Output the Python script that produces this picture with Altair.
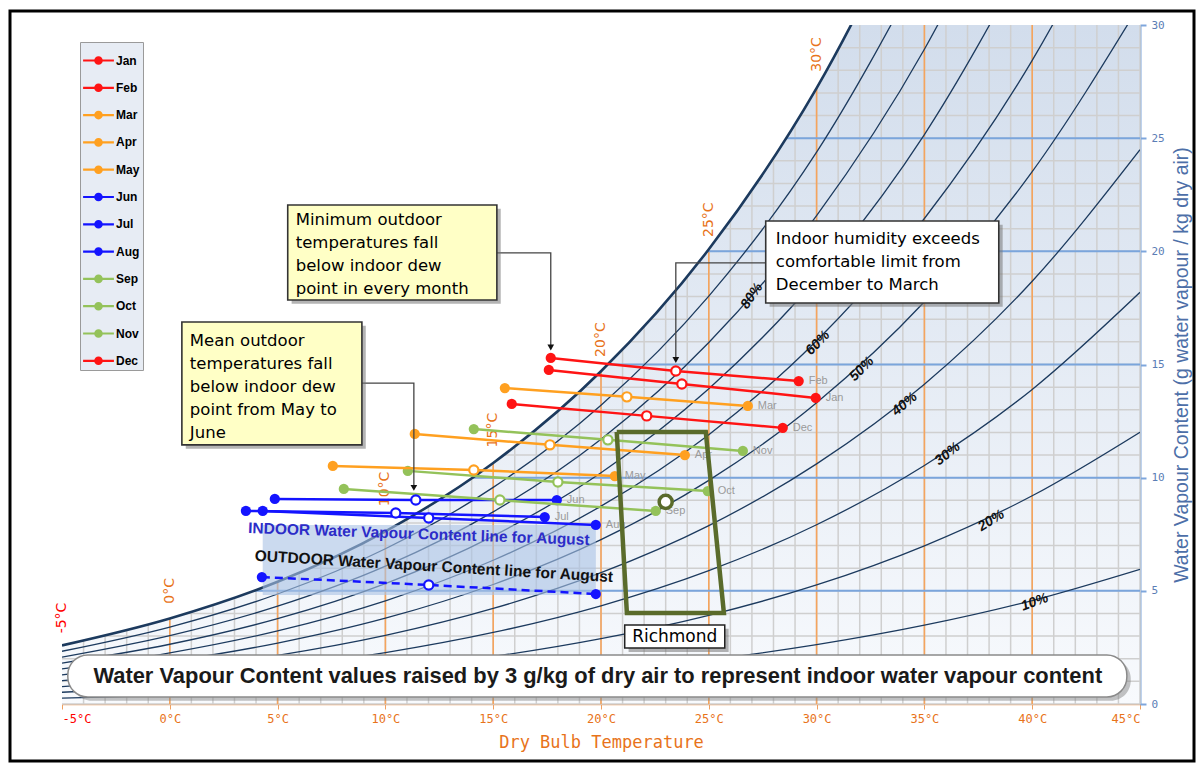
import altair as alt
import pandas as pd

# ---------------- axis values ----------------
x_ticks = [-5, 0, 5, 10, 15, 20, 25, 30, 35, 40, 45]
y_ticks = [0, 5, 10, 15, 20, 25, 30]
grid_T = list(range(-4, 46))
grid_W = list(range(0, 30))
orange_T = [0, 5, 10, 15, 20, 25, 30, 35, 40]
blue_W = [5, 10, 15, 20, 25]

# ---------------- relative humidity curves (g/kg), read at 5 degC steps ----------------
rh_temps = [-5, 0, 5, 10, 15, 20, 25, 30, 35, 40, 45]
rh100 = [2.59, 3.78, 5.40, 7.63, 10.65, 14.70, 20.09, 27.21, 36.58]
rh90 = [2.33, 3.40, 4.86, 6.86, 9.57, 13.20, 18.02, 24.38, 32.73]
rh80 = [2.07, 3.02, 4.32, 6.09, 8.49, 11.70, 15.97, 21.58, 28.93, 38.51]
rh70 = [1.81, 2.64, 3.77, 5.32, 7.42, 10.22, 13.93, 18.80, 25.16, 33.44]
rh60 = [1.55, 2.26, 3.23, 4.56, 6.35, 8.74, 11.90, 16.05, 21.45, 28.44, 37.47]
rh50 = [1.29, 1.88, 2.69, 3.79, 5.28, 7.26, 9.88, 13.31, 17.77, 23.52, 30.91]
rh40 = [1.03, 1.51, 2.15, 3.03, 4.22, 5.80, 7.88, 10.61, 14.13, 18.68, 24.49]
rh30 = [0.77, 1.13, 1.61, 2.27, 3.16, 4.34, 5.89, 7.92, 10.54, 13.90, 18.19]
rh20 = [0.52, 0.75, 1.07, 1.51, 2.10, 2.89, 3.92, 5.26, 6.99, 9.20, 12.01]
rh10 = [0.26, 0.38, 0.54, 0.76, 1.05, 1.44, 1.95, 2.62, 3.48, 4.57, 5.95]
rh_series = {90: rh90, 80: rh80, 70: rh70, 60: rh60, 50: rh50,
             40: rh40, 30: rh30, 20: rh20, 10: rh10}

# temperature labels on the saturation curve
tlab_text = ["-5°C", "0°C", "10°C", "15°C", "20°C", "25°C", "30°C"]
tlab_T = [-5, 0, 10, 15, 20, 25, 30]
tlab_W = [3.8, 5.0, 9.5, 12.1, 16.1, 21.4, 28.7]
tlab_color = ["#ff0000", "#e8731a", "#e8731a", "#e8731a", "#e8731a", "#e8731a", "#e8731a"]

# RH curve labels
rhlab_text = ["80%", "60%", "50%", "40%", "30%", "20%", "10%"]
rhlab_T = [27.0, 30.06, 32.1, 34.09, 36.08, 38.1, 40.12]
rhlab_W = [18.03, 15.95, 14.8, 13.25, 11.05, 8.1, 4.5]
rhlab_angle = [305, 314, 315, 320, 322, 328, 340]

# ---------------- monthly indoor water vapour content ----------------
months = ["Jan", "Feb", "Mar", "Apr", "May", "Jun", "Jul", "Aug", "Sep", "Oct", "Nov", "Dec"]
month_colors = ["#ff1414", "#ff1414", "#ffa020", "#ffa020", "#ffa020", "#1414ff", "#1414ff",
                "#1414ff", "#94c25a", "#94c25a", "#94c25a", "#ff1414"]
t_min = [17.58, 17.67, 15.54, 11.36, 7.56, 4.87, 3.53, 4.31, 8.07, 11.04, 14.10, 15.86]
w_min = [14.76, 15.29, 13.96, 11.93, 10.52, 9.06, 8.53, 8.53, 9.50, 10.30, 12.15, 13.26]
t_mean = [23.75, 23.47, 21.20, 17.63, 14.10, 11.41, 10.48, 12.01, 15.31, 18.00, 20.32, 22.12]
w_mean = [14.14, 14.71, 13.57, 11.45, 10.34, 9.01, 8.44, 8.22, 9.01, 9.81, 11.67, 12.73]
t_max = [29.96, 29.17, 26.81, 23.89, 20.64, 17.95, 17.39, 19.76, 22.54, 24.95, 26.58, 28.43]
w_max = [13.52, 14.27, 13.17, 11.00, 10.07, 9.01, 8.26, 7.91, 8.53, 9.41, 11.18, 12.20]

# outdoor August
aug_out_T = [4.27, 12.01, 19.76]
aug_out_W = [5.61, 5.26, 4.86]

# Richmond comfort zone
rich_T = [20.73, 24.86, 25.70, 21.20, 20.73]
rich_W = [12.02, 12.02, 4.02, 4.02, 12.02]
rich_pt_T = [23.0]
rich_pt_W = [8.93]

# ---------------- helpers ----------------
W_PX, H_PX = 1078, 679
xs = alt.Scale(domain=[-5, 45], nice=False, zero=False)
ys = alt.Scale(domain=[0, 30], nice=False, zero=False)
ORANGE = "#e8731a"
x_axis = alt.Axis(values=x_ticks, labelExpr="datum.value + '°C'", grid=False,
                  domainColor="#f0a060", domainWidth=1.5, tickColor="#f0a060", tickSize=5,
                  labelColor=alt.condition("datum.value == -5", alt.value("#ff0000"), alt.value(ORANGE)),
                  labelFont="DejaVu Sans Mono", labelFontSize=12, labelPadding=4,
                  titleColor=ORANGE, titleFont="DejaVu Sans Mono", titleFontSize=17,
                  titleFontWeight="normal", titlePadding=10)
y_axis = alt.Axis(orient="right", values=y_ticks, grid=False, domainColor="#7ea6dc",
                  domainWidth=2, tickColor="#7ea6dc", tickSize=6, tickWidth=2,
                  labelColor="#5a7db5", labelFont="DejaVu Sans Mono", labelFontSize=11,
                  labelPadding=5, titleColor="#4d6fa8", titleFont="Liberation Sans",
                  titleFontSize=19.5, titleFontWeight="normal", titlePadding=8,
                  titleAngle=270, titleBaseline="top")
X_TITLE = "Dry Bulb Temperature"
Y_TITLE = "Water Vapour Content (g water vapour / kg dry air)"


def X(f):
    return alt.X(f, type="quantitative", scale=xs, axis=x_axis, title=X_TITLE)


def Y(f):
    return alt.Y(f, type="quantitative", scale=ys, axis=y_axis, title=Y_TITLE)


# ---------------- data frames ----------------
bg_df = pd.DataFrame({"T": [x_ticks[0]], "T2": [x_ticks[-1]], "W": [y_ticks[0]], "W2": [y_ticks[-1]]})
gridT_df = pd.DataFrame({"T": grid_T})
gridW_df = pd.DataFrame({"W": grid_W})
orT_df = pd.DataFrame({"T": orange_T})
blW_df = pd.DataFrame({"W": blue_W})
sat_df = pd.DataFrame({"T": rh_temps[:len(rh100)], "W": rh100})
rows = []
for rh, vals in rh_series.items():
    for t, w in zip(rh_temps, vals):
        rows.append({"rh": rh, "T": t, "W": w})
rh_df = pd.DataFrame(rows)
tlab_df = pd.DataFrame({"T": tlab_T, "W": tlab_W, "txt": tlab_text, "c": tlab_color})
rhlab_df = pd.DataFrame({"T": rhlab_T, "W": rhlab_W, "txt": rhlab_text, "a": rhlab_angle})

line_rows, end_rows, mean_rows = [], [], []
for i, m in enumerate(months):
    for k, (t, w) in enumerate([(t_min[i], w_min[i]), (t_mean[i], w_mean[i]), (t_max[i], w_max[i])]):
        line_rows.append({"month": m, "T": t, "W": w, "ord": k})
    end_rows.append({"month": m, "T": t_min[i], "W": w_min[i]})
    end_rows.append({"month": m, "T": t_max[i], "W": w_max[i]})
    mean_rows.append({"month": m, "T": t_mean[i], "W": w_mean[i]})
lines_df = pd.DataFrame(line_rows)
ends_df = pd.DataFrame(end_rows)
means_df = pd.DataFrame(mean_rows)
mlab_df = pd.DataFrame({"month": months, "T": t_max, "W": w_max})

aug_df = pd.DataFrame({"T": aug_out_T, "W": aug_out_W, "ord": [0, 1, 2]})
aug_end_df = aug_df.iloc[[0, 2]]
aug_mid_df = aug_df.iloc[[1]]
rich_df = pd.DataFrame({"T": rich_T, "W": rich_W, "ord": list(range(len(rich_T)))})
rich_pt_df = pd.DataFrame({"T": rich_pt_T, "W": rich_pt_W})

cscale = alt.Scale(domain=months, range=month_colors)
sscale = alt.Scale(domain=months, range=month_colors)
legend_path = ("M-1,-0.07H1V0.07H-1Z"
               "M0.28,0A0.28,0.28,0,1,1,-0.28,0A0.28,0.28,0,1,1,0.28,0Z")
legend = alt.Legend(title=None, orient="none", legendX=18, legendY=17,
                    symbolType=legend_path, symbolSize=950, symbolStrokeWidth=0,
                    symbolOpacity=1, labelFont="Liberation Sans", labelFontSize=12,
                    labelFontWeight="bold", labelColor="#000000", fillColor="#e7ecf4",
                    strokeColor="#9a9a9a", padding=3, rowPadding=5.3, labelOffset=2)

layers = []

# background gradient
grad = alt.Gradient(gradient="linear",
                    stops=[alt.GradientStop(color="#d2ddec", offset=0),
                           alt.GradientStop(color="#f8fafd", offset=1)],
                    x1=0, x2=0, y1=0, y2=1)
layers.append(alt.Chart(bg_df).mark_rect(color=grad).encode(x=X("T"), x2="T2", y=Y("W"), y2="W2"))
# grids
layers.append(alt.Chart(gridT_df).mark_rule(color="#cfcfcf", strokeWidth=1.5).encode(x=X("T")))
layers.append(alt.Chart(gridW_df).mark_rule(color="#cfcfcf", strokeWidth=1.5).encode(y=Y("W")))
layers.append(alt.Chart(orT_df).mark_rule(color="#f5a45d", strokeWidth=1.6).encode(x=X("T")))
layers.append(alt.Chart(blW_df).mark_rule(color="#7aa5dc", strokeWidth=2).encode(y=Y("W")))
# white region above saturation
layers.append(alt.Chart(sat_df).transform_calculate(top="30").mark_area(
    color="white", interpolate="monotone", clip=True, opacity=1).encode(
    x=X("T"), y=Y("W"), y2="top:Q"))
# RH curves
layers.append(alt.Chart(rh_df).mark_line(color="#1c3a5e", strokeWidth=1.3, interpolate="monotone",
                                          clip=True).encode(x=X("T"), y=Y("W"), detail="rh:N"))
layers.append(alt.Chart(sat_df).mark_line(color="#1c3a5e", strokeWidth=2.6, interpolate="monotone",
                                          clip=True).encode(x=X("T"), y=Y("W")))
# temperature labels on the curve
layers.append(alt.Chart(tlab_df).mark_text(angle=270, baseline="middle", align="center",
                                            font="DejaVu Sans", fontSize=14).encode(
    x=X("T"), y=Y("W"), text="txt:N", color=alt.Color("c:N", scale=None)))
# RH labels
layers.append(alt.Chart(rhlab_df).mark_text(font="Liberation Sans", fontSize=14, fontWeight="bold",
                                             color="#111111", fontStyle="italic").encode(
    x=X("T"), y=Y("W"), text="txt:N", angle=alt.Angle("a:Q", scale=None)))

# August overlay box
ov_df = pd.DataFrame({"T": [4.31], "T2": [19.76], "W": [4.82], "W2": [7.91]})
layers.append(alt.Chart(ov_df).mark_rect(color="#a9c2e4", opacity=0.6).encode(
    x=X("T"), x2="T2", y=Y("W"), y2="W2"))

# month endpoint dots (carry the legend), lines, mean circles, labels
layers.append(alt.Chart(ends_df).mark_circle(size=105, opacity=1).encode(
    x=X("T"), y=Y("W"), color=alt.Color("month:N", scale=cscale, legend=legend)))
layers.append(alt.Chart(lines_df).mark_line(strokeWidth=2.5).encode(
    x=X("T"), y=Y("W"), stroke=alt.Stroke("month:N", scale=sscale, legend=None),
    order="ord:Q"))
layers.append(alt.Chart(means_df).mark_point(shape="circle", filled=False, fill="white", size=85,
                                              strokeWidth=2.2, opacity=1).encode(
    x=X("T"), y=Y("W"), stroke=alt.Stroke("month:N", scale=sscale, legend=None)))
layers.append(alt.Chart(mlab_df).mark_text(align="left", dx=10, font="Liberation Sans",
                                            fontSize=11, color="#9a9a9a").encode(
    x=X("T"), y=Y("W"), text="month:N"))

# outdoor August
layers.append(alt.Chart(aug_df).mark_line(color="#1414ff", strokeWidth=2.5, strokeDash=[8, 5]).encode(
    x=X("T"), y=Y("W"), order="ord:Q"))
layers.append(alt.Chart(aug_end_df).mark_circle(size=105, opacity=1, color="#1414ff").encode(
    x=X("T"), y=Y("W")))
layers.append(alt.Chart(aug_mid_df).mark_point(shape="circle", filled=False, fill="white", size=85,
                                                strokeWidth=2.2, opacity=1, color="#1414ff").encode(
    x=X("T"), y=Y("W")))

# August texts
ann_aug = pd.DataFrame({"T": [11.55, 12.25], "W": [7.51, 6.08],
                        "txt": ["INDOOR Water Vapour Content line for August",
                                "OUTDOOR Water Vapour Content line for August"],
                        "c": ["#2c2cc8", "#111111"], "a": [2, 3.4]})
layers.append(alt.Chart(ann_aug).mark_text(font="Liberation Sans", fontSize=15.5, fontWeight="bold").encode(
    x=X("T"), y=Y("W"), text="txt:N", color=alt.Color("c:N", scale=None),
    angle=alt.Angle("a:Q", scale=None)))

# Richmond
layers.append(alt.Chart(rich_df).mark_line(color="#5a6b2b", strokeWidth=4.5, strokeJoin="miter").encode(
    x=X("T"), y=Y("W"), order="ord:Q"))
layers.append(alt.Chart(rich_pt_df).mark_point(shape="circle", filled=False, fill="white", size=170,
                                                strokeWidth=3.5, opacity=1, color="#5a6b2b").encode(
    x=X("T"), y=Y("W")))

# shadow offsets for boxes (about 4 px right and down)
SH_T, SH_W = 0.18, 0.17

rbox = pd.DataFrame({"T": [21.10], "T2": [25.74], "W": [2.47], "W2": [3.49],
                     "tx": [23.42], "ty": [2.98], "txt": ["Richmond"]})
rbox_sh = rbox.assign(T=rbox["T"] + SH_T, T2=rbox["T2"] + SH_T, W=rbox["W"] - SH_W, W2=rbox["W2"] - SH_W)
layers.append(alt.Chart(rbox_sh).mark_rect(fill="#777777", opacity=0.55).encode(
    x=X("T"), x2="T2", y=Y("W"), y2="W2"))
layers.append(alt.Chart(rbox).mark_rect(fill="white", stroke="#222222", strokeWidth=1.5).encode(
    x=X("T"), x2="T2", y=Y("W"), y2="W2"))
layers.append(alt.Chart(rbox).mark_text(font="DejaVu Sans", fontSize=17, color="#000000").encode(
    x=X("tx"), y=Y("ty"), text="txt:N"))

# annotation boxes
boxes = pd.DataFrame({
    "T": [5.47, 0.56, 27.64], "T2": [15.17, 8.91, 38.45],
    "W": [17.85, 11.45, 17.72], "W2": [22.05, 16.88, 21.34],
    "fill": ["#ffffc6", "#ffffc6", "#ffffff"],
    "tx": [5.84, 0.93, 28.11], "ty": [21.72, 16.40, 20.88],
    "txt": ["Minimum outdoor\ntemperatures fall\nbelow indoor dew\npoint in every month",
            "Mean outdoor\ntemperatures fall\nbelow indoor dew\npoint from May to\nJune",
            "Indoor humidity exceeds\ncomfortable limit from\nDecember to March"]})
boxes_sh = boxes.assign(T=boxes["T"] + SH_T, T2=boxes["T2"] + SH_T,
                        W=boxes["W"] - SH_W, W2=boxes["W2"] - SH_W)
# arrows
arrows = pd.DataFrame({
    "id": [0, 0, 0, 1, 1, 1, 2, 2, 2], "ord": [0, 1, 2] * 3,
    "T": [15.17, 17.67, 17.67, 8.91, 11.32, 11.32, 27.64, 23.47, 23.47],
    "W": [19.93, 19.93, 15.75, 14.18, 14.18, 9.55, 19.49, 19.49, 15.2]})
heads = arrows[arrows["ord"] == 2]
layers.append(alt.Chart(arrows).mark_line(color="#444444", strokeWidth=1.3).encode(
    x=X("T"), y=Y("W"), detail="id:N", order="ord:Q"))
layers.append(alt.Chart(heads).mark_point(shape="triangle-down", filled=True, size=45, color="#111111",
                                           opacity=1).encode(x=X("T"), y=Y("W")))
layers.append(alt.Chart(boxes_sh).mark_rect(fill="#777777", opacity=0.55).encode(
    x=X("T"), x2="T2", y=Y("W"), y2="W2"))
layers.append(alt.Chart(boxes).mark_rect(stroke="#333333", strokeWidth=1.6).encode(
    x=X("T"), x2="T2", y=Y("W"), y2="W2", fill=alt.Fill("fill:N", scale=None)))
layers.append(alt.Chart(boxes).mark_text(align="left", baseline="top", lineBreak="\n", lineHeight=23,
                                          font="DejaVu Sans", fontSize=16.5, color="#000000").encode(
    x=X("tx"), y=Y("ty"), text="txt:N"))

# bottom banner
banner = pd.DataFrame({"T": [-4.73], "T2": [44.39], "W": [0.31], "W2": [2.17], "tx": [19.85], "ty": [1.24],
                       "txt": ["Water Vapour Content values raised by 3 g/kg of dry air to represent indoor water vapour content"]})
banner_sh = banner.assign(T=banner["T"] + SH_T, T2=banner["T2"] + SH_T,
                          W=banner["W"] - SH_W, W2=banner["W2"] - SH_W)
layers.append(alt.Chart(banner_sh).mark_rect(fill="#888888", opacity=0.5, cornerRadius=20).encode(
    x=X("T"), x2="T2", y=Y("W"), y2="W2"))
layers.append(alt.Chart(banner).mark_rect(fill="white", stroke="#8a8a8a", strokeWidth=1.5, cornerRadius=20).encode(
    x=X("T"), x2="T2", y=Y("W"), y2="W2"))
layers.append(alt.Chart(banner).mark_text(font="Liberation Sans", fontSize=21.9, fontWeight="bold",
                                           color="#1a1a1a").encode(
    x=X("tx"), y=Y("ty"), text="txt:N"))

# outer frame (decorative)
frame_df = pd.DataFrame({"k": [0]})
layers.append(alt.Chart(frame_df).mark_rect(filled=False, stroke="#000000", strokeWidth=3, clip=False).encode(
    x=alt.value(-52), x2=alt.value(1132), y=alt.value(-14), y2=alt.value(736)))

chart = alt.layer(*layers).properties(
    width=W_PX, height=H_PX,
    autosize=alt.AutoSizeParams(type="none"),
    padding={"left": 54, "top": 17, "right": 56, "bottom": 60},
).configure_view(stroke=None).configure(background="white")

chart.save("out.html", embed_options={"renderer": "svg", "actions": False})
